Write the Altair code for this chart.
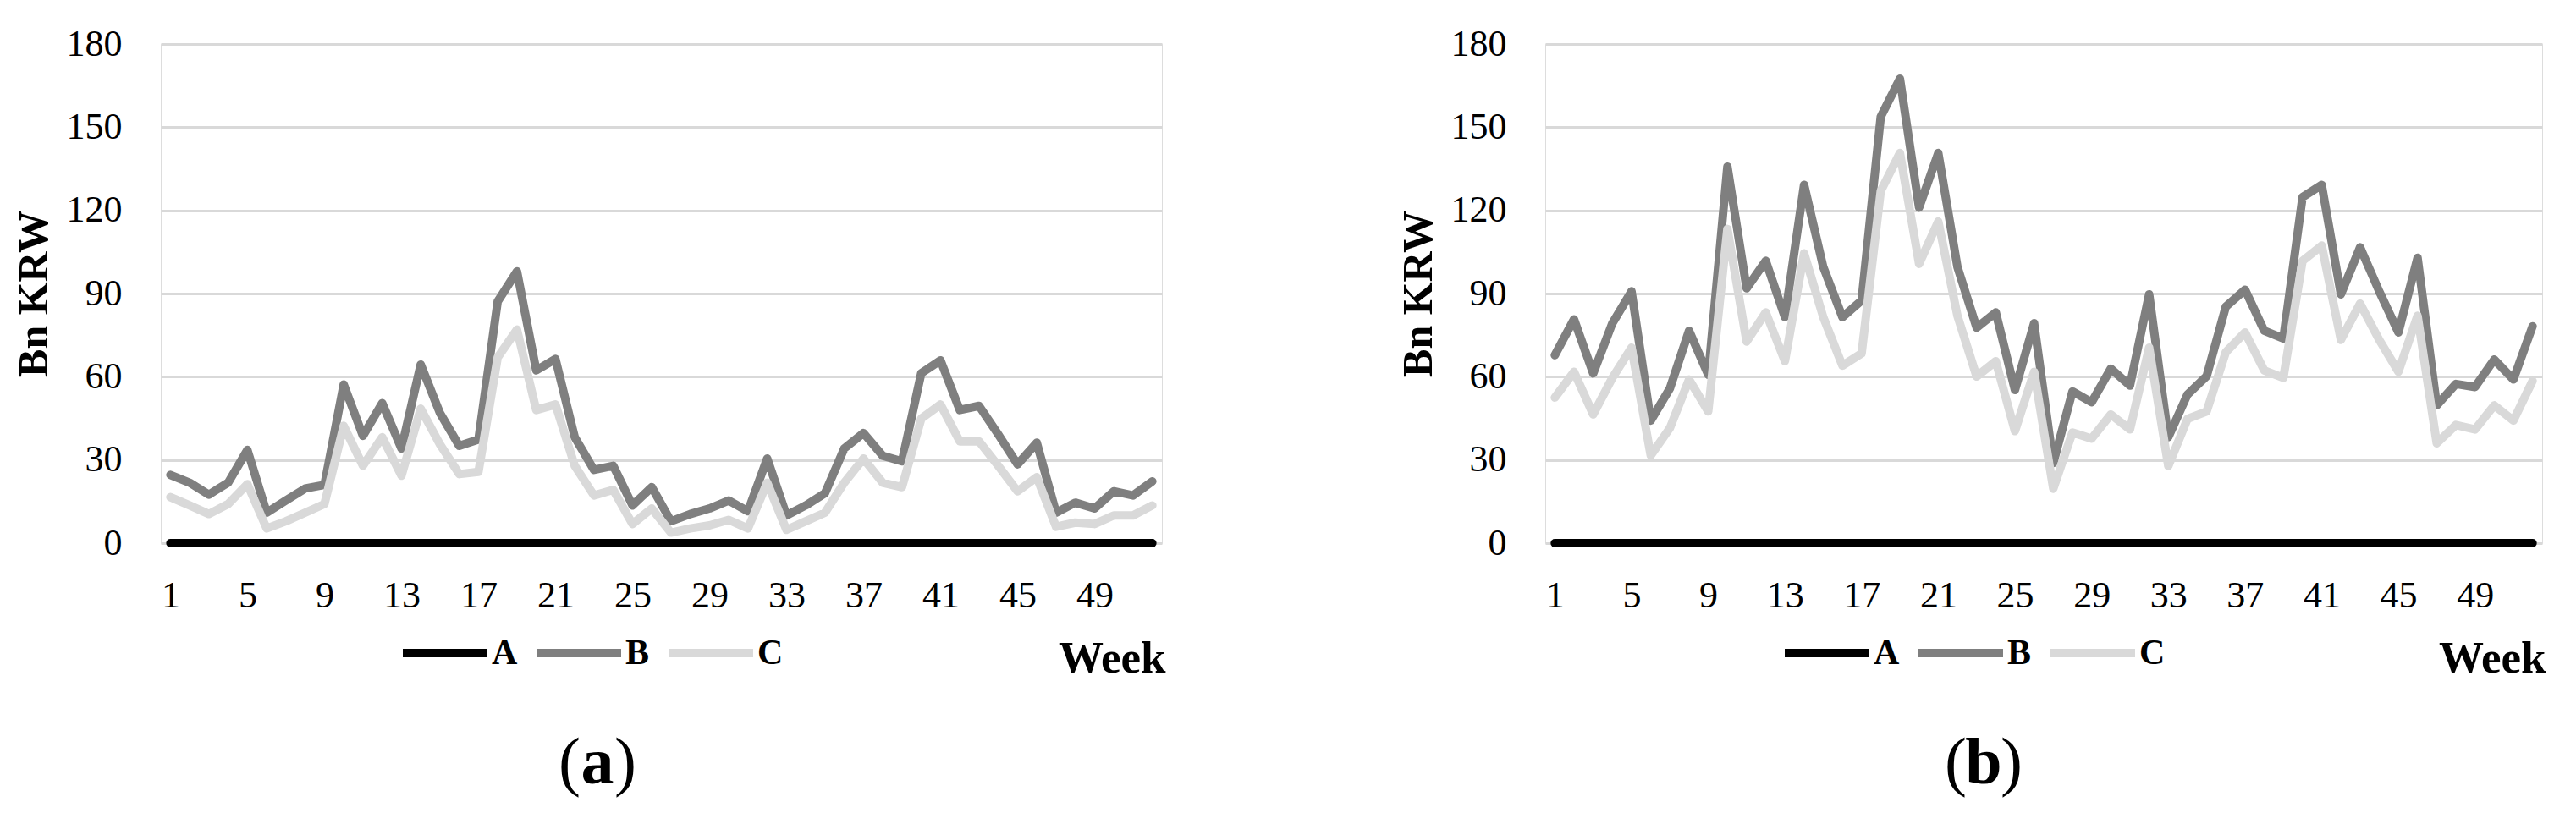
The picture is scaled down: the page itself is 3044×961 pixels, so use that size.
import altair as alt
import pandas as pd

FONT = "Liberation Serif"

weeks = list(range(1, 53))
series_names = ["A", "B", "C"]
series_colors = ["#000000", "#7f7f7f", "#d9d9d9"]
y_ticks = [0, 30, 60, 90, 120, 150, 180]
x_ticks = [1, 5, 9, 13, 17, 21, 25, 29, 33, 37, 41, 45, 49]

# Panel (a)
a_A = [0, 0, 0, 0, 0, 0, 0, 0, 0, 0, 0, 0, 0, 0, 0, 0, 0, 0, 0, 0, 0, 0, 0, 0, 0, 0,
       0, 0, 0, 0, 0, 0, 0, 0, 0, 0, 0, 0, 0, 0, 0, 0, 0, 0, 0, 0, 0, 0, 0, 0, 0, 0]
a_B = [24.6, 21.8, 17.5, 21.8, 33.6, 11.0, 15.4, 19.7, 21.0, 57.2,
       38.7, 50.5, 34.1, 64.4, 46.9, 35.1, 37.4, 87.2, 98.0, 62.3,
       66.4, 38.2, 26.4, 27.9, 13.6, 20.2, 7.9, 10.5, 12.5, 15.4,
       11.5, 30.5, 10.0, 13.6, 18.0, 34.1, 39.7, 31.5, 29.5, 61.3,
       65.9, 48.0, 49.5, 39.2, 28.4, 36.2, 11.0, 14.6, 12.5, 18.7,
       17.2, 22.3]
a_C = [16.6, 13.6, 10.5, 14.1, 21.3, 5.3, 7.9, 11.0, 14.1, 42.3,
       27.9, 38.2, 24.3, 48.5, 35.6, 24.9, 25.7, 67.0, 77.0, 48.0,
       50.0, 27.9, 17.2, 19.2, 6.9, 12.5, 3.8, 5.3, 6.4, 8.4,
       5.3, 21.8, 4.8, 7.9, 11.0, 21.8, 30.5, 21.8, 20.2, 44.9,
       50.0, 36.7, 36.7, 27.9, 18.7, 23.8, 5.9, 7.4, 6.9, 10.0,
       10.0, 13.6]

# Panel (b)
b_A = [0, 0, 0, 0, 0, 0, 0, 0, 0, 0, 0, 0, 0, 0, 0, 0, 0, 0, 0, 0, 0, 0, 0, 0, 0, 0,
       0, 0, 0, 0, 0, 0, 0, 0, 0, 0, 0, 0, 0, 0, 0, 0, 0, 0, 0, 0, 0, 0, 0, 0, 0, 0]
b_B = [67.8, 80.7, 61.2, 79.3, 90.8, 44.2, 55.8, 76.6, 60.7, 135.8,
       91.9, 101.8, 81.5, 129.2, 99.6, 81.5, 87.5, 153.8, 167.5, 121.0,
       140.7, 99.6, 77.7, 83.2, 55.2, 79.3, 28.9, 54.7, 50.8, 62.9,
       56.8, 89.7, 38.2, 53.6, 60.2, 85.3, 91.4, 76.6, 73.8, 124.8,
       129.2, 89.7, 106.7, 90.8, 76.0, 102.9, 49.7, 57.4, 56.3, 66.2,
       59.0, 78.2]
b_C = [52.5, 61.8, 46.4, 59.6, 70.5, 31.6, 41.5, 59.0, 47.5, 113.3,
       72.7, 83.2, 65.6, 104.5, 81.5, 64.0, 68.4, 127.0, 140.7, 100.7,
       116.0, 82.0, 60.1, 65.6, 40.4, 61.8, 19.6, 39.9, 37.7, 46.4,
       41.0, 70.5, 27.8, 44.8, 47.5, 68.9, 76.0, 62.3, 59.6, 101.8,
       107.3, 73.3, 86.4, 73.3, 61.8, 82.0, 36.0, 42.6, 41.0, 49.7,
       44.2, 58.5]

PLOT_H = 590


def panel(vA, vB, vC, letter, width, legend_x, label_cx):
    df = pd.DataFrame({
        "week": weeks * 3,
        "value": vA + vB + vC,
        "series": ["A"] * len(weeks) + ["B"] * len(weeks) + ["C"] * len(weeks),
    })
    lines = alt.Chart(df).mark_line(
        strokeWidth=10, strokeJoin="round", strokeCap="round", clip=False
    ).encode(
        x=alt.X(
            "week:Q",
            scale=alt.Scale(domain=[0.5, 52.5], nice=False, zero=False),
            axis=alt.Axis(
                values=x_ticks, title="Week", titleFont=FONT, titleFontSize=53,
                titleFontWeight="bold", titleColor="black", titleAlign="right",
                titleX=width + 4, titleY=152, titleBaseline="alphabetic",
                labelFont=FONT, labelFontSize=44, labelColor="black",
                labelPadding=40, labelAngle=0, ticks=False, tickSize=0,
                domain=False, grid=False, labelFlush=False, labelOverlap=False,
            ),
        ),
        y=alt.Y(
            "value:Q",
            scale=alt.Scale(domain=[0, 180], nice=False),
            axis=alt.Axis(
                values=y_ticks, title="Bn KRW", titleFont=FONT, titleFontSize=50,
                titleFontWeight="bold", titleColor="black", titleAngle=270,
                titleX=-150, titleY=PLOT_H / 2, titleAlign="center",
                titleBaseline="middle", labelFont=FONT, labelFontSize=44,
                labelColor="black", labelPadding=46, ticks=False, tickSize=0,
                domain=False, grid=True, gridColor="#d9d9d9", gridWidth=3,
                labelBaseline="middle",
            ),
        ),
        color=alt.Color(
            "series:N",
            scale=alt.Scale(domain=series_names, range=series_colors),
            legend=alt.Legend(
                title=None, orient="none", legendX=legend_x, legendY=665,
                direction="horizontal", symbolType="stroke", symbolSize=10000,
                symbolStrokeWidth=10, labelFont=FONT, labelFontSize=42,
                labelFontWeight="bold", labelColor="black", labelOffset=0,
                columnPadding=2, padding=0,
            ),
        ),
    )
    lp = alt.Chart(pd.DataFrame({"t": ["("]})).mark_text(
        font=FONT, fontSize=78, align="right", baseline="alphabetic", color="black"
    ).encode(text="t:N", x=alt.value(label_cx - 20), y=alt.value(874))
    mid = alt.Chart(pd.DataFrame({"t": [letter]})).mark_text(
        font=FONT, fontSize=78, fontWeight="bold", align="center",
        baseline="alphabetic", color="black"
    ).encode(text="t:N", x=alt.value(label_cx), y=alt.value(874))
    rp = alt.Chart(pd.DataFrame({"t": [")"]})).mark_text(
        font=FONT, fontSize=78, align="left", baseline="alphabetic", color="black"
    ).encode(text="t:N", x=alt.value(label_cx + 20), y=alt.value(874))
    return alt.layer(lines, lp, mid, rp).properties(width=width, height=PLOT_H)


pa = panel(a_A, a_B, a_C, "a", 1183, 281, 516)
pb = panel(b_A, b_B, b_C, "b", 1178, 278, 518)

chart = alt.hconcat(pa, pb, spacing=453, bounds="flush").resolve_scale(
    color="independent"
).resolve_legend(color="independent").properties(
    padding={"left": 6, "top": 21, "right": 5, "bottom": 5}
).configure_view(stroke=None).configure(background="white")

chart.save("out.html", embed_options={"renderer": "svg", "actions": False})
